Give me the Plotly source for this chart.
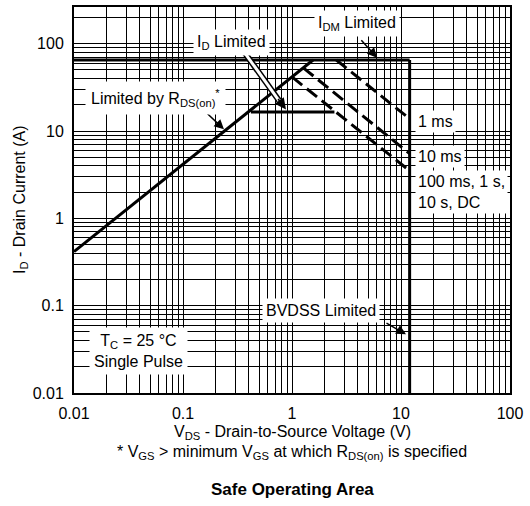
import plotly.graph_objects as go

# ---------------- data ----------------
rds_v = [0.01, 1.56]          # Limited by RDS(on)
rds_i = [0.416, 65.0]
idm_v = [0.01, 12.0]          # IDM limited (top horizontal)
idm_i = [65.0, 65.0]
bv_v = [12.0, 12.0]           # BVDSS limited (vertical)
bv_i = [65.0, 0.01]
idlim_v = [0.42, 2.45]        # ID limited
idlim_i = [16.5, 16.5]
ms1_v = [2.55, 12.0]          # 1 ms
ms1_i = [65.0, 13.8]
ms10_v = [1.27, 12.0]         # 10 ms
ms10_i = [52.9, 5.5]
dc_v = [1.0, 12.0]            # 100 ms, 1 s, 10 s, DC
dc_i = [41.6, 3.5]

decade_vals = [0.01, 0.1, 1, 10, 100]
decade_labels = ["0.01", "0.1", "1", "10", "100"]

grid_vals = [m * d for d in [0.01, 0.1, 1, 10, 100] for m in range(1, 10)]
grid_text = [decade_labels[decade_vals.index(v)] if v in decade_vals else "" for v in grid_vals]

FONT = "Liberation Sans, Arial, Helvetica, sans-serif"

# plot area in pixels
L, R, T, B = 74, 510, 5, 393
W, H = 530, 506


def P(px, py):
    return (px - L) / (R - L), (B - py) / (B - T)


fig = go.Figure()

solid = dict(color="black", width=3)
dashed = dict(color="black", width=3, dash="13px,6px")

for xv, yv, ln in [
    (rds_v, rds_i, solid),
    (idm_v, idm_i, solid),
    (bv_v, bv_i, solid),
    (idlim_v, idlim_i, solid),
    (ms1_v, ms1_i, dashed),
    (ms10_v, ms10_i, dashed),
    (dc_v, dc_i, dashed),
]:
    fig.add_trace(go.Scatter(x=xv, y=yv, mode="lines", line=ln,
                             showlegend=False, hoverinfo="skip"))

axis_common = dict(
    type="log",
    tickvals=grid_vals,
    ticktext=grid_text,
    showgrid=True,
    gridcolor="black",
    gridwidth=1,
    showline=True,
    linecolor="black",
    linewidth=2,
    mirror=True,
    ticks="outside",
    ticklen=5,
    tickcolor="rgba(0,0,0,0)",
    tickfont=dict(family=FONT, size=16, color="black"),
    zeroline=False,
)

fig.update_xaxes(range=[-2, 2], **axis_common)
fig.update_yaxes(range=[-2, 2.42], **axis_common)

ann = []


def label(text, px, py, xanchor="center", size=16, align="center", pad=2):
    x, y = P(px, py)
    ann.append(dict(text=text, x=x, y=y, xref="paper", yref="paper",
                    xanchor=xanchor, yanchor="middle", showarrow=False,
                    bgcolor="white", borderpad=pad, align=align,
                    font=dict(family=FONT, size=size, color="black")))


def arrow(tail, tip, width=1.5, head=2, size=1.3, color="black", standoff=0):
    x, y = P(*tip)
    ann.append(dict(text="", x=x, y=y, xref="paper", yref="paper",
                    ax=tail[0] - tip[0], ay=tail[1] - tip[1],
                    showarrow=True, arrowhead=head, arrowwidth=width,
                    arrowsize=size, arrowcolor=color, standoff=standoff))


# hollow arrow shaft for "ID Limited"
tail = (244, 50)
neck = (279, 99)
x0, y0 = P(*tail)
x1, y1 = P(*neck)
shapes = [
    dict(type="line", xref="paper", yref="paper", x0=x0, y0=y0, x1=x1, y1=y1,
         line=dict(color="black", width=6)),
    dict(type="line", xref="paper", yref="paper", x0=x0, y0=y0, x1=x1, y1=y1,
         line=dict(color="white", width=3)),
]

arrow((277, 96), (286, 108), width=1.6, head=2, size=1.4)
arrow((360, 37), (377, 56))
arrow((206, 111), (224, 128))
arrow((385, 322), (406, 334))

label("I<sub>DM</sub> Limited", 357, 22, pad=3)
label("I<sub>D</sub> Limited", 231, 41, pad=3)
label("Limited by R<sub>DS(on)</sub><sup>*</sup>", 155, 96, pad=5)
label("1 ms", 415, 120, xanchor="left")
label("10 ms", 415, 155, xanchor="left")
label("100 ms, 1 s,<br>10 s, DC", 415, 191, xanchor="left", align="left")
label("BVDSS Limited", 321, 310, pad=3)
label("T<sub>C</sub> = 25 °C<br>Single Pulse", 138, 351, pad=4)

# axis titles and captions
cx = (L + R) / 2
for text, py, size in [
    ("V<sub>DS</sub> - Drain-to-Source Voltage (V)", 433, 16),
    ("* V<sub>GS</sub> &gt; minimum V<sub>GS</sub> at which R<sub>DS(on)</sub> is specified", 453, 16),
    ("<b>Safe Operating Area</b>", 490, 17),
]:
    x, y = P(cx, py)
    ann.append(dict(text=text, x=x, y=y, xref="paper", yref="paper",
                    xanchor="center", yanchor="middle", showarrow=False,
                    font=dict(family=FONT, size=size, color="black")))

x, y = P(20, (T + B) / 2)
ann.append(dict(text="I<sub>D</sub> - Drain Current (A)", x=x, y=y,
                xref="paper", yref="paper", xanchor="center", yanchor="middle",
                textangle=-90, showarrow=False,
                font=dict(family=FONT, size=16, color="black")))

fig.update_layout(
    width=W, height=H,
    margin=dict(l=L, r=W - R, t=T, b=H - B),
    paper_bgcolor="white", plot_bgcolor="white",
    annotations=ann, shapes=shapes,
    font=dict(family=FONT, size=16, color="black"),
    hovermode=False,
)

fig.write_html("out.html",
               config={"displayModeBar": False, "staticPlot": True},
               post_script="document.body.style.margin='0px';document.body.style.overflow='hidden';")
